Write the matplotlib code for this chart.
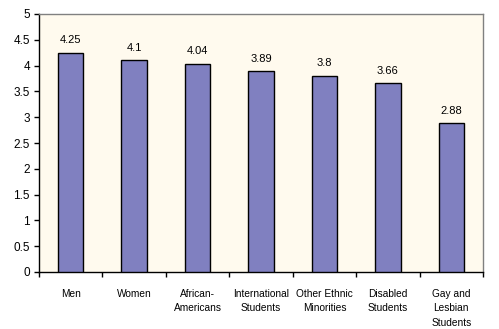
import matplotlib
matplotlib.use("Agg")
import matplotlib.pyplot as plt
import numpy as np

categories = ["Men", "Women", "African-\nAmericans", "International\nStudents",
              "Other Ethnic\nMinorities", "Disabled\nStudents", "Gay and\nLesbian\nStudents"]
values = [4.25, 4.1, 4.04, 3.89, 3.8, 3.66, 2.88]
value_labels = ["4.25", "4.1", "4.04", "3.89", "3.8", "3.66", "2.88"]
yticks = [0, 0.5, 1, 1.5, 2, 2.5, 3, 3.5, 4, 4.5, 5]
ytick_labels = ["0", "0.5", "1", "1.5", "2", "2.5", "3", "3.5", "4", "4.5", "5"]

plt.rcParams['font.family'] = ['Liberation Sans', 'DejaVu Sans']

fig = plt.figure(figsize=(4.99, 3.29), dpi=100)
ax = fig.add_axes([39/499, 1-272/329, (483-39)/499, (272-14)/329])
ax.set_facecolor('#FFFAEE')

x = np.arange(len(categories))
bars = ax.bar(x, values, width=0.4, color='#8080C0', edgecolor='black', linewidth=1.0, zorder=3)
for xi, v, lab in zip(x, values, value_labels):
    ax.annotate(lab, (xi, v), xytext=(0, 5.5), textcoords='offset points',
                ha='center', va='bottom', fontsize=8)

ax.set_xlim(-0.5, len(categories) - 0.5)
ax.set_ylim(0, 5)
ax.set_yticks(yticks)
ax.set_yticklabels(ytick_labels, fontsize=8.5)
ax.set_xticks(x)
ax.set_xticklabels(categories, fontsize=7.3, linespacing=1.6, va='top')
ax.set_xticks(np.arange(-0.5, len(categories)), minor=True)
ax.tick_params(axis='x', which='major', length=0, pad=12)
ax.tick_params(axis='x', which='minor', direction='out', length=3.5, width=1)
ax.tick_params(axis='y', length=3.5, direction='out', width=1, pad=3)

ax.spines['left'].set_color('black')
ax.spines['bottom'].set_color('black')
ax.spines['top'].set_color('#808080')
ax.spines['right'].set_color('#808080')
for s in ax.spines.values():
    s.set_linewidth(1.0)

fig.savefig("out.png", dpi=100, facecolor='white')
